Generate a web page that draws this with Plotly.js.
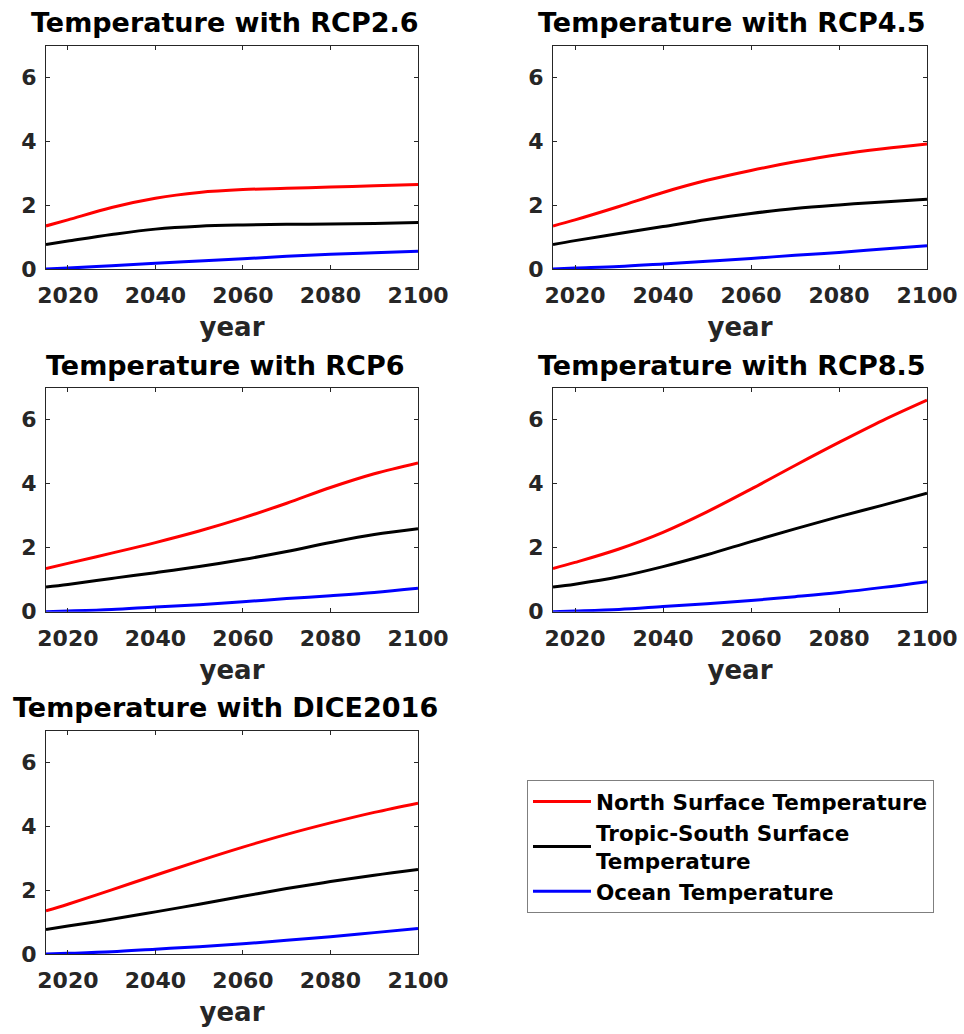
<!DOCTYPE html>
<html>
<head>
<meta charset="utf-8">
<script src="https://cdn.plot.ly/plotly-3.0.1.min.js"></script>
<style>html,body{margin:0;padding:0;background:#fff;}#chart{width:964px;height:1034px;}</style>
</head>
<body>
<div id="chart"></div>
<script>
const years = [2015, 2020, 2030, 2040, 2050, 2060, 2070, 2080, 2090, 2100];
const seriesNames = ["North Surface Temperature", "Tropic-South Surface<br>Temperature", "Ocean Temperature"];
const seriesColors = ["#ff0000", "#000000", "#0000ff"];
const scenarioTitles = ["Temperature with RCP2.6", "Temperature with RCP4.5", "Temperature with RCP6", "Temperature with RCP8.5", "Temperature with DICE2016"];

const rcp26North = [1.35, 1.54, 1.93, 2.22, 2.40, 2.49, 2.53, 2.57, 2.61, 2.65];
const rcp26Tropic = [0.77, 0.875, 1.08, 1.25, 1.34, 1.38, 1.40, 1.41, 1.43, 1.46];
const rcp26Ocean = [0.00, 0.03, 0.10, 0.18, 0.25, 0.32, 0.40, 0.46, 0.51, 0.56];

const rcp45North = [1.35, 1.54, 1.96, 2.40, 2.78, 3.09, 3.36, 3.59, 3.77, 3.92];
const rcp45Tropic = [0.77, 0.89, 1.11, 1.33, 1.55, 1.74, 1.90, 2.01, 2.10, 2.19];
const rcp45Ocean = [0.00, 0.03, 0.08, 0.16, 0.24, 0.33, 0.43, 0.52, 0.63, 0.73];

const rcp6North = [1.35, 1.51, 1.83, 2.16, 2.52, 2.93, 3.39, 3.88, 4.31, 4.65];
const rcp6Tropic = [0.77, 0.85, 1.04, 1.22, 1.41, 1.63, 1.88, 2.16, 2.41, 2.59];
const rcp6Ocean = [0.00, 0.02, 0.07, 0.15, 0.22, 0.31, 0.41, 0.50, 0.60, 0.73];

const rcp85North = [1.35, 1.54, 1.96, 2.48, 3.12, 3.83, 4.57, 5.29, 5.98, 6.61];
const rcp85Tropic = [0.77, 0.86, 1.09, 1.41, 1.78, 2.19, 2.59, 2.97, 3.33, 3.70];
const rcp85Ocean = [0.00, 0.02, 0.07, 0.16, 0.25, 0.35, 0.47, 0.60, 0.76, 0.94];

const diceNorth = [1.35, 1.56, 2.01, 2.47, 2.92, 3.35, 3.75, 4.11, 4.44, 4.73];
const diceTropic = [0.77, 0.875, 1.09, 1.32, 1.56, 1.81, 2.05, 2.27, 2.47, 2.65];
const diceOcean = [0.00, 0.02, 0.07, 0.15, 0.23, 0.32, 0.43, 0.54, 0.67, 0.80];

const yTicks = [0, 2, 4, 6];
const xTicks = [2020, 2040, 2060, 2080, 2100];

const panels = [
  [rcp26North, rcp26Tropic, rcp26Ocean],
  [rcp45North, rcp45Tropic, rcp45Ocean],
  [rcp6North, rcp6Tropic, rcp6Ocean],
  [rcp85North, rcp85Tropic, rcp85Ocean],
  [diceNorth, diceTropic, diceOcean]
];

const W = 964, H = 1034;
const colX = [[46, 418], [553, 927]];
const rowY = [[45.7, 269], [387.7, 611.7], [730.7, 954]];
const titleCX = [225, 732];
const titleCY = [23, 365, 707];

const FONT = "DejaVu Sans, Liberation Sans, Arial, sans-serif";
const traces = [];
const layout = {
  width: W, height: H,
  margin: {l: 0, r: 0, t: 0, b: 0},
  paper_bgcolor: "#ffffff",
  plot_bgcolor: "#ffffff",
  showlegend: true,
  legend: {
    x: 527 / W, y: 1 - 780 / H, xanchor: "left", yanchor: "top",
    bordercolor: "#7f7f7f", borderwidth: 1, bgcolor: "#ffffff",
    font: {family: FONT, size: 21.5, color: "#000000", weight: "bold"},
    tracegroupgap: 0, itemwidth: 58
  },
  annotations: []
};

panels.forEach((p, i) => {
  const r = Math.floor(i / 2), c = i % 2;
  const xa = "xaxis" + (i === 0 ? "" : (i + 1));
  const ya = "yaxis" + (i === 0 ? "" : (i + 1));
  const xr = "x" + (i === 0 ? "" : (i + 1));
  const yr = "y" + (i === 0 ? "" : (i + 1));
  p.forEach((vals, k) => {
    traces.push({
      x: years, y: vals, xaxis: xr, yaxis: yr, type: "scatter", mode: "lines",
      line: {color: seriesColors[k], width: 3, shape: "spline", smoothing: 1},
      name: seriesNames[k], legendgroup: "s" + k, showlegend: i === 0,
      hoverinfo: "skip"
    });
  });
  const common = {
    showline: true, mirror: "ticks", linecolor: "#262626", linewidth: 1,
    ticks: "inside", ticklen: 4, tickcolor: "#262626", showgrid: false, zeroline: false,
    tickfont: {family: FONT, size: 22, color: "#262626", weight: "bold"}
  };
  layout[xa] = Object.assign({}, common, {
    domain: [colX[c][0] / W, colX[c][1] / W], anchor: yr,
    range: [2015, 2100], tickvals: xTicks, ticktext: xTicks.map(String),
    ticklabelstandoff: 7,
    title: {text: "year", font: {family: FONT, size: 26, color: "#262626", weight: "bold"}, standoff: 10}
  });
  layout[ya] = Object.assign({}, common, {
    domain: [1 - rowY[r][1] / H, 1 - rowY[r][0] / H], anchor: xr,
    range: [0, 7], tickvals: yTicks, ticktext: yTicks.map(String),
    ticklabelstandoff: 4
  });
  layout.annotations.push({
    text: scenarioTitles[i], xref: "paper", yref: "paper",
    x: titleCX[c] / W, y: 1 - titleCY[r] / H, xanchor: "center", yanchor: "middle",
    showarrow: false, font: {family: FONT, size: 27, color: "#000000", weight: "bold"}
  });
});

Plotly.newPlot("chart", traces, layout, {displayModeBar: false, staticPlot: true});
</script>
</body>
</html>
